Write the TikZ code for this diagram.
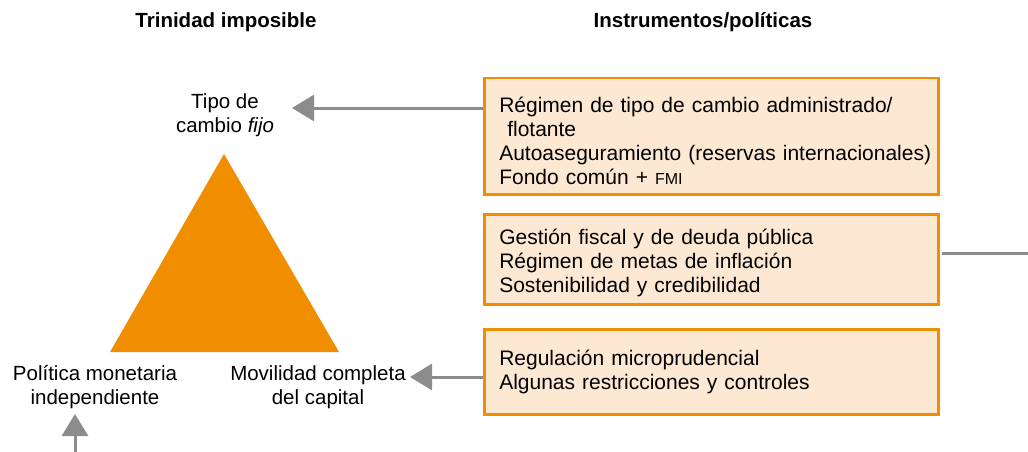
\documentclass[tikz,border=0pt]{standalone}
\usepackage{fontspec}
\setmainfont{Liberation Sans}
\usetikzlibrary{arrows.meta}
\definecolor{orng}{HTML}{F18E00}
\definecolor{boxfill}{HTML}{FDE9D3}
\definecolor{arrgray}{HTML}{8C8C8C}
\tikzset{
  txt/.style={font=\fontsize{20.5}{24}\selectfont, align=center, inner sep=0pt},
  ttl/.style={font=\fontsize{20.5}{24}\selectfont\bfseries, inner sep=0pt},
  instbox/.style={draw=orng, line width=2.5pt, fill=boxfill, anchor=north west,
     minimum width=454pt, text width=424pt, inner xsep=15pt, align=left,
     font=\fontsize{21}{24}\selectfont},
  conn/.style={draw=arrgray, line width=3pt, -{Triangle[length=22pt,width=26pt]}},
  plain/.style={draw=arrgray, line width=3pt}
}
\begin{document}
\begin{tikzpicture}[x=1pt,y=-1pt]
\useasboundingbox (0,0) rectangle (1028,452);
\node[ttl] (t1) at (226,22) {Trinidad imposible};
\node[ttl] (t2) at (703,22) {Instrumentos/políticas};
\fill[orng] (224,154) -- (339,352) -- (110,352) -- cycle;
\node[txt] (tipo) at (225,115) {Tipo de\\cambio \textit{fijo}};
\node[txt] (pol) at (95,387) {Política monetaria\\independiente};
\node[txt] (mov) at (318,387) {Movilidad completa\\del capital};
\node[instbox, minimum height=116pt] (b1) at (483,77) {\rule{0pt}{25pt}\mbox{Régimen de tipo de cambio administrado/}\\\hspace*{8pt}flotante\\\mbox{Autoaseguramiento (reservas internacionales)}\\Fondo común + {\fontsize{16}{24}\selectfont FMI}};
\node[instbox, minimum height=90pt] (b2) at (483,213) {\rule{0pt}{23pt}Gestión fiscal y de deuda pública\\Régimen de metas de inflación\\Sostenibilidad y credibilidad};
\node[instbox, minimum height=85pt] (b3) at (483,328) {Regulación microprudencial\\Algunas restricciones y controles};
\coordinate (a1s) at (483,108);
\coordinate (a1e) at (292,108);
\draw[conn] (a1s) -- (a1e);
\coordinate (a3s) at (483,377);
\coordinate (a3e) at (410,377);
\draw[conn] (a3s) -- (a3e);
\coordinate (bot) at (75,452);
\coordinate (bote) at (75,414);
\draw[conn] (bot) -- (bote);
\coordinate (rgt) at (1028,253);
\draw[plain] (b2.east |- rgt) ++(2,0) -- (rgt);
\end{tikzpicture}
\end{document}
